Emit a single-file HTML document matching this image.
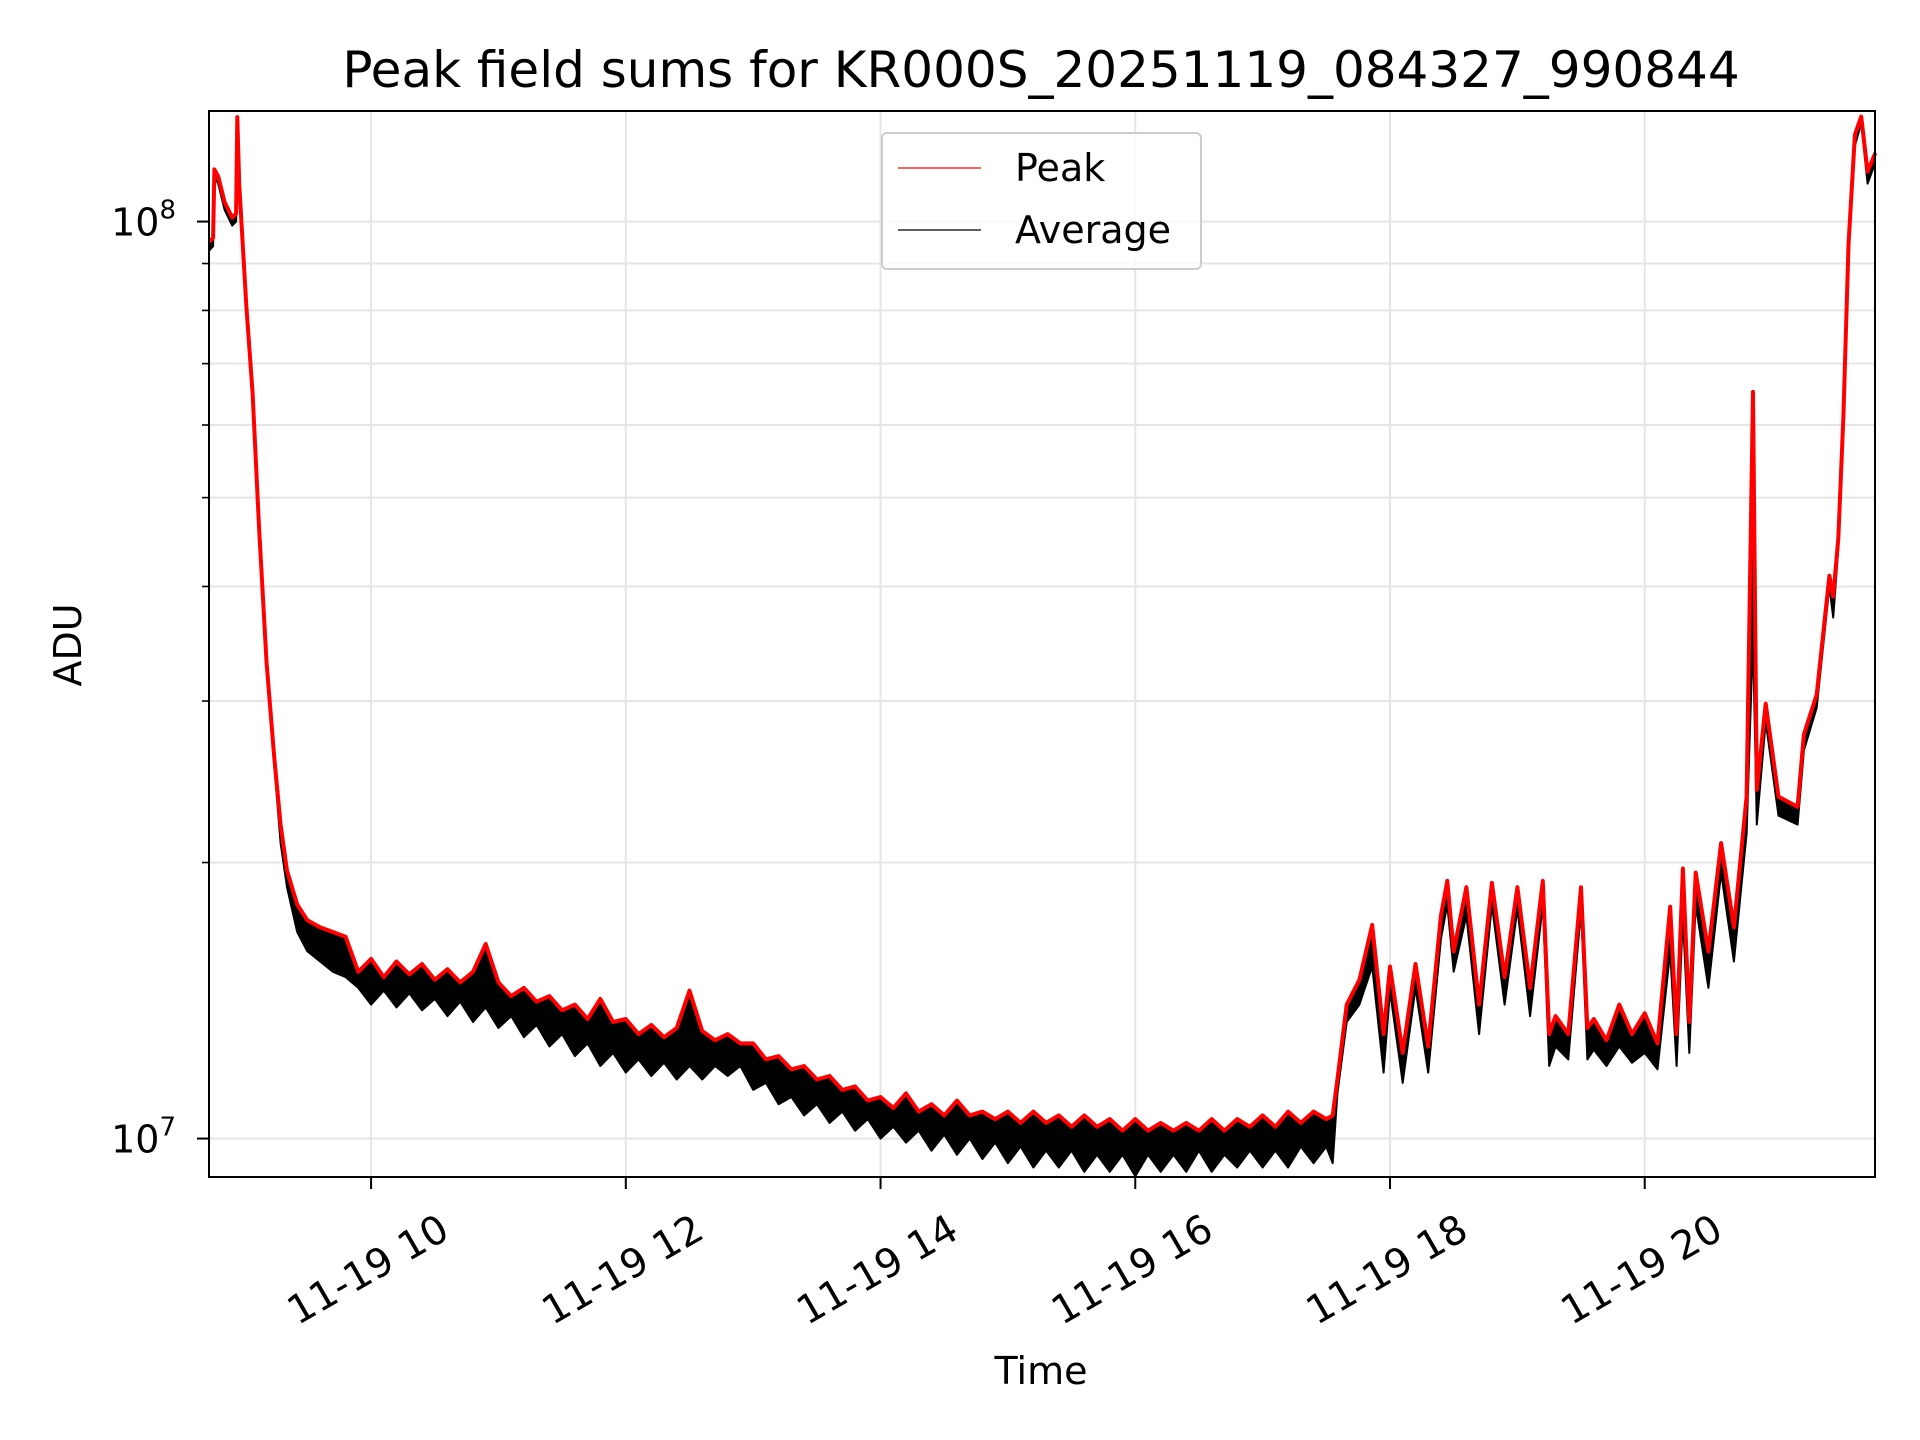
<!DOCTYPE html>
<html><head><meta charset="utf-8"><style>
html,body{margin:0;padding:0;background:#fff;}
svg{display:block;font-family:"DejaVu Sans","Liberation Sans",sans-serif;}
</style></head><body>
<svg id="chart" width="1920" height="1440" viewBox="0 0 1920 1440" xmlns="http://www.w3.org/2000/svg">
<rect width="1920" height="1440" fill="#fff"/>
<text x="1041" y="87" font-size="50" text-anchor="middle">Peak field sums for KR000S_20251119_084327_990844</text>
<g id="grid"></g>
<g id="series"></g>
<rect x="209" y="111" width="1666" height="1066" fill="none" stroke="#000" stroke-width="2"/>
<g id="axes"></g>
<text x="0" y="0" font-size="38" text-anchor="middle" transform="translate(81,645) rotate(-90)">ADU</text>
<text x="1041" y="1384" font-size="38" text-anchor="middle">Time</text>
<g>
<rect x="882" y="133" width="319" height="136" rx="5" fill="#fff" fill-opacity="0.8" stroke="#ccc" stroke-width="2"/>
<line x1="898" y1="168" x2="981" y2="168" stroke="#f00" stroke-width="1.2"/>
<text x="1015" y="181" font-size="38">Peak</text>
<line x1="898" y1="230" x2="981" y2="230" stroke="#000" stroke-width="1.2"/>
<text x="1015" y="243" font-size="38">Average</text>
</g>
</svg>
<script>
const times = [8.73,8.76,8.77,8.80,8.85,8.91,8.94,8.95,8.965,9.02,9.07,9.12,9.18,9.24,9.29,9.34,9.42,9.5,9.6,9.7,
9.8,9.9,10.0,10.1,10.2,10.3,10.4,10.5,10.6,10.7,10.8,10.9,11.0,11.1,11.2,11.3,11.4,11.5,11.6,11.7,11.8,11.9,
12.0,12.1,12.2,12.3,12.4,12.5,12.6,12.7,12.8,12.9,13.0,13.1,13.2,13.3,13.4,13.5,13.6,13.7,13.8,13.9,
14.0,14.1,14.2,14.3,14.4,14.5,14.6,14.7,14.8,14.9,15.0,15.1,15.2,15.3,15.4,15.5,15.6,15.7,15.8,15.9,
16.0,16.1,16.2,16.3,16.4,16.5,16.6,16.7,16.8,16.9,17.0,17.1,17.2,17.3,17.4,17.5,17.55,
17.587,17.66,17.76,17.86,17.95,18.0,18.1,18.2,18.3,18.4,18.45,18.5,18.6,18.7,18.8,18.9,19.0,19.1,19.2,19.25,19.3,19.4,19.5,19.55,19.6,19.7,19.8,19.9,
20.0,20.1,20.2,20.25,20.3,20.35,20.4,20.5,20.6,20.7,20.8,20.85,20.88,20.95,21.05,21.2,21.25,21.35,21.45,21.48,21.52,21.56,21.6,21.65,21.7,21.75,21.81];
const peakM = [95,96,114,112,105,101,102,130,110,81,65,46.5,33,26,22,19.6,18.0,17.3,17.0,16.8,
16.6,15.2,15.7,15.0,15.6,15.1,15.5,14.9,15.3,14.8,15.2,16.3,14.8,14.3,14.6,14.1,14.3,13.8,14.0,13.5,14.2,13.4,
13.5,13.0,13.3,12.9,13.2,14.5,13.1,12.8,13.0,12.7,12.7,12.2,12.3,11.9,12.0,11.6,11.7,11.3,11.4,11.0,
11.1,10.8,11.2,10.7,10.9,10.6,11.0,10.6,10.7,10.5,10.7,10.4,10.7,10.4,10.6,10.3,10.6,10.3,10.5,10.2,
10.5,10.2,10.4,10.2,10.4,10.2,10.5,10.2,10.5,10.3,10.6,10.3,10.7,10.4,10.7,10.5,10.6,
11.6,14.0,14.9,17.1,13.0,15.4,12.4,15.5,12.6,17.5,19.1,16.0,18.8,14.0,19.0,15.0,18.8,14.6,19.1,13.0,13.6,13.0,18.8,13.2,13.5,12.8,14.0,13.0,
13.7,12.7,17.9,13.0,19.7,13.4,19.5,16.0,21.0,17.0,23.6,65.2,24.0,29.8,23.6,23.0,27.6,30.5,41.1,39.0,45.1,61.3,94.3,124.4,130.2,113.4,118.8];
const avgM = [93,94,112,110,103,99,100,122,108,80,64,46,32.5,25.5,21,18.8,16.8,16.0,15.6,15.2,
15.0,14.6,14.0,14.5,13.9,14.4,13.8,14.2,13.6,14.1,13.4,13.9,13.2,13.6,12.9,13.3,12.6,13.0,12.3,12.7,12.0,12.4,
11.8,12.2,11.7,12.1,11.6,12.0,11.6,12.0,11.7,12.0,11.3,11.5,10.9,11.1,10.6,10.9,10.4,10.7,10.2,10.5,
10.0,10.3,9.9,10.2,9.7,10.1,9.6,10.0,9.5,9.9,9.4,9.8,9.3,9.7,9.3,9.7,9.2,9.6,9.2,9.6,
9.1,9.6,9.2,9.6,9.2,9.7,9.2,9.6,9.3,9.7,9.3,9.7,9.3,9.8,9.4,9.8,9.4,
11.2,13.4,14.0,15.4,11.8,14.5,11.5,14.6,11.8,16.5,18.0,15.2,17.5,13.0,18.0,14.0,17.8,13.6,18.0,12.0,12.6,12.2,17.8,12.2,12.5,12.0,12.6,12.1,
12.4,11.9,16.0,12.0,17.5,12.4,18.0,14.6,19.5,15.6,21.5,35.3,22.0,28.5,22.5,22.0,26.5,29.5,40.0,37.0,44.0,60.0,92.0,121.0,128.0,110.0,116.0];
const xTickHours = [10,12,14,16,18,20];
const xTickLabels = ["11-19 10","11-19 12","11-19 14","11-19 16","11-19 18","11-19 20"];
const yMajor = [1e7,1e8];
const yMajorLabels = ["7","8"];
const yMinor = [9e6,2e7,3e7,4e7,5e7,6e7,7e7,8e7,9e7];

const L=209,R=1875,T=111,B=1177;
const X0=8.7275, X1=21.808;
const LY0=Math.log10(9.08e6), LY1=Math.log10(1.32e8);
const xs=h=>L+(h-X0)/(X1-X0)*(R-L);
const ys=v=>B-(Math.log10(v)-LY0)/(LY1-LY0)*(B-T);
const NS="http://www.w3.org/2000/svg";
function mk(tag,parent){const e=document.createElementNS(NS,tag);parent.appendChild(e);return e;}
const grid=document.getElementById('grid'), axes=document.getElementById('axes'), ser=document.getElementById('series');

xTickHours.forEach((h,i)=>{
  const x=xs(h);
  const g=mk('line',grid);
  
  
  g.setAttribute('x1',x);g.setAttribute('x2',x);g.setAttribute('y1',T);g.setAttribute('y2',B);
  g.setAttribute('stroke','#e5e5e5');g.setAttribute('stroke-width','2');
  const t=mk('line',axes);
  
  
  t.setAttribute('x1',x);t.setAttribute('x2',x);t.setAttribute('y1',B);t.setAttribute('y2',B+12);
  t.setAttribute('stroke','#000');t.setAttribute('stroke-width','2');
  const lb=mk('text',axes);
  
  
  lb.setAttribute('font-size','39.5');lb.setAttribute('text-anchor','middle');
  lb.setAttribute('dominant-baseline','central');
  lb.setAttribute('transform',`translate(${x-3},${B+93}) rotate(-30)`);
  lb.textContent=xTickLabels[i];
});
yMinor.concat(yMajor).forEach(v=>{
  const y=ys(v); if(y<T||y>B) return;
  const g=mk('line',grid);
  
  
  g.setAttribute('x1',L);g.setAttribute('x2',R);g.setAttribute('y1',y);g.setAttribute('y2',y);
  g.setAttribute('stroke','#e5e5e5');g.setAttribute('stroke-width','2');
});
yMinor.forEach(v=>{
  const y=ys(v); if(y<T||y>B) return;
  const t=mk('line',axes);
  
  
  t.setAttribute('x1',L-7);t.setAttribute('x2',L);t.setAttribute('y1',y);t.setAttribute('y2',y);
  t.setAttribute('stroke','#000');t.setAttribute('stroke-width','1.6');
});
yMajor.forEach((v,i)=>{
  const y=ys(v);
  const t=mk('line',axes);
  
  
  t.setAttribute('x1',L-12);t.setAttribute('x2',L);t.setAttribute('y1',y);t.setAttribute('y2',y);
  t.setAttribute('stroke','#000');t.setAttribute('stroke-width','2');
  const lb=mk('text',axes);
  
  
  lb.setAttribute('x',L-33);lb.setAttribute('y',y+14);lb.setAttribute('font-size','38');lb.setAttribute('text-anchor','end');
  lb.textContent='10';
  const sp=mk('tspan',lb);
  sp.setAttribute('font-size','26');sp.setAttribute('dy','-17');
  sp.textContent=yMajorLabels[i];
});
const band=mk('polygon',ser);


const up=times.map((h,i)=>xs(h).toFixed(1)+','+ys(peakM[i]*1e6).toFixed(1));
const dn=times.map((h,i)=>xs(h).toFixed(1)+','+ys(avgM[i]*1e6).toFixed(1)).reverse();
band.setAttribute('points',up.concat(dn).join(' '));
band.setAttribute('fill','#000');
function line(vals,color,name,w){
  const p=mk('polyline',ser);
  
  
  p.setAttribute('points',times.map((h,i)=>xs(h).toFixed(1)+','+ys(vals[i]*1e6).toFixed(1)).join(' '));
  p.setAttribute('fill','none');p.setAttribute('stroke',color);p.setAttribute('stroke-width',w);
  p.setAttribute('stroke-linejoin','round');
}
line(avgM,'#000','average-line','2');
line(peakM,'#f00','peak-line','4');
</script>
</body></html>
